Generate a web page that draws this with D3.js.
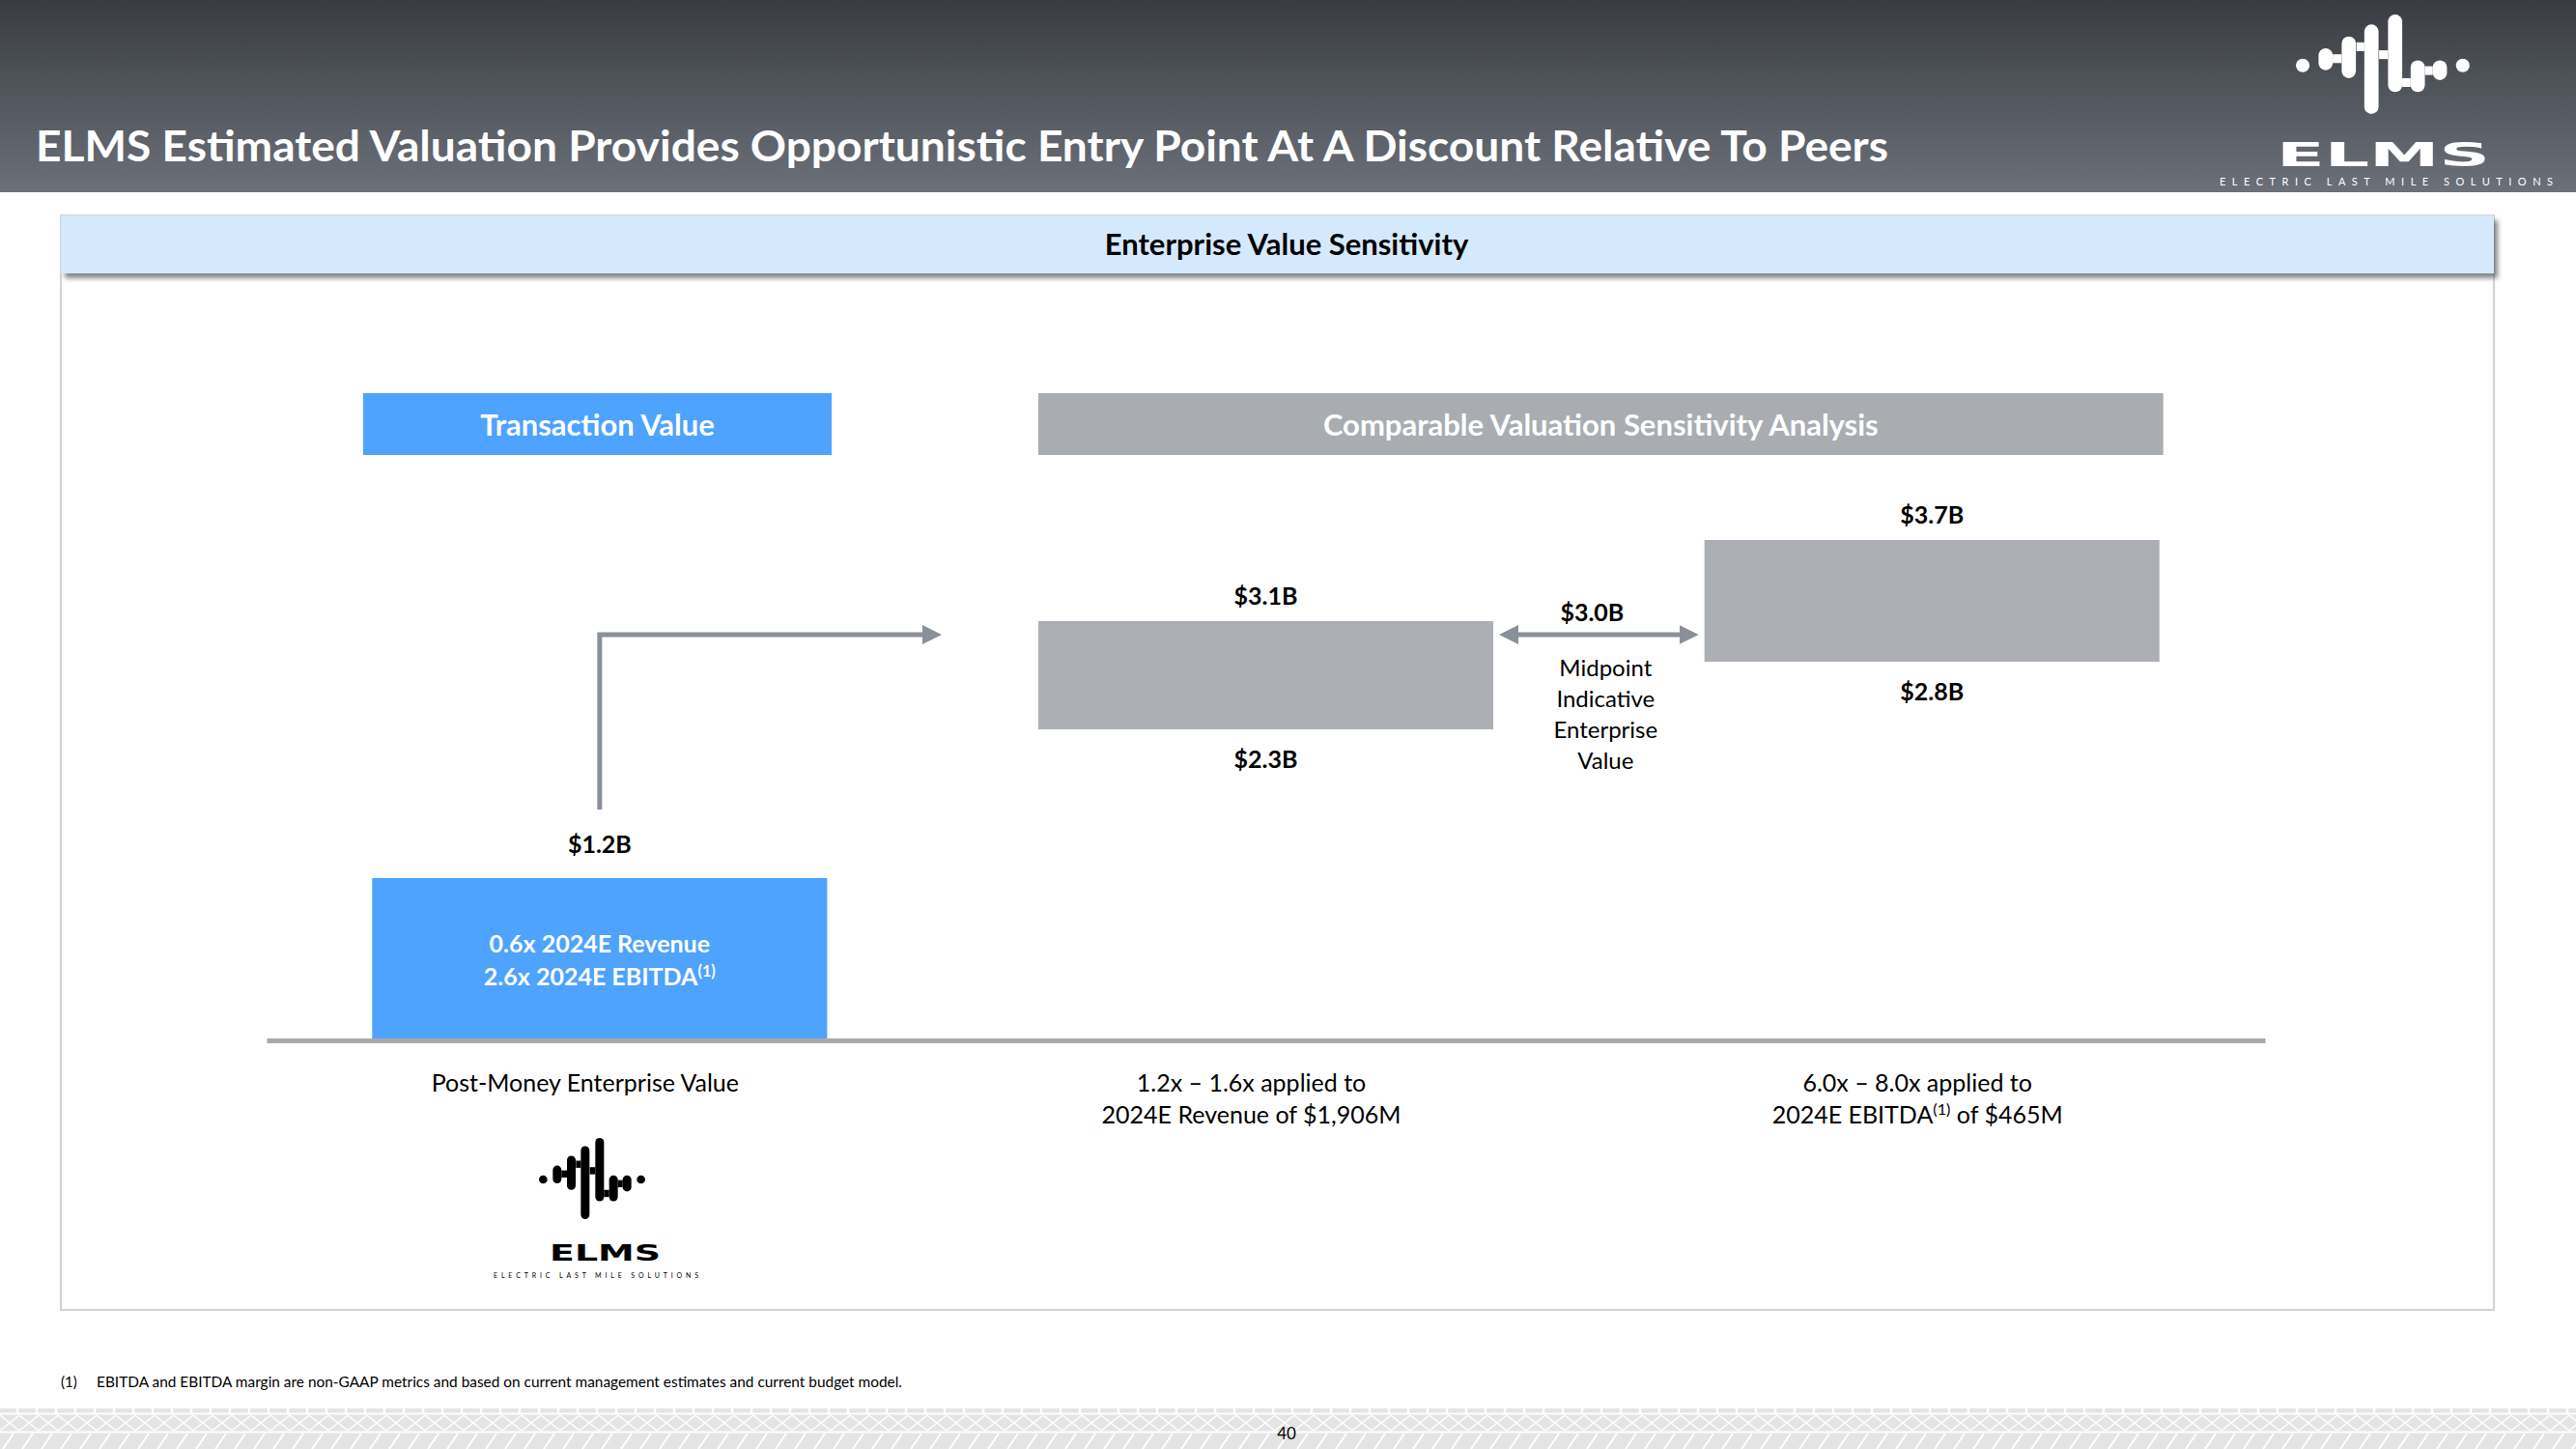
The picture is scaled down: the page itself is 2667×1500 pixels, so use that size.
<!DOCTYPE html>
<html lang="en">
<head>
  <meta charset="UTF-8">
  <title>ELMS Enterprise Value Sensitivity</title>
  <script src="https://d3js.org/d3.v7.min.js"></script>
  <style>
    body { margin: 0; background: #fff; }
    svg text { font-family: Lato, "Open Sans", sans-serif; }
  </style>
</head>
<body>
  <div id="chart"></div>

  <script>
    // values in $B
    const categories = ["Post-Money", "Revenue", "EBITDA"];
    const lowValues = [0, 2.3, 2.8];
    const highValues = [1.2, 3.1, 3.7];
    const topLabels = ["$1.2B", "$3.1B", "$3.7B"];
    const bottomLabels = [null, "$2.3B", "$2.8B"];
    const midpoint = 3.0;
    const midpointLabel = "$3.0B";
    const midpointText = ["Midpoint", "Indicative", "Enterprise", "Value"];
    const categoryLines = [
      ["Post-Money Enterprise Value"],
      ["1.2x – 1.6x applied to", "2024E Revenue of $1,906M"],
      ["6.0x – 8.0x applied to", "2024E EBITDA|(1)| of $465M"]
    ];
    const barText = ["0.6x 2024E Revenue", "2.6x 2024E EBITDA|(1)|"];

    const W = 2667, H = 1500;
    const blue = "#4da3fe", grey = "#abafb5", arrowGrey = "#8a9099";

    const svg = d3.select("#chart").append("svg")
      .attr("width", W).attr("height", H);

    const defs = svg.append("defs");

    const grad = defs.append("linearGradient").attr("id", "hdr")
      .attr("x1", 0).attr("y1", 0).attr("x2", 0).attr("y2", 1);
    grad.append("stop").attr("offset", "0%").attr("stop-color", "#393d42");
    grad.append("stop").attr("offset", "100%").attr("stop-color", "#6b7079");

    const shadow = defs.append("filter").attr("id", "shadow")
      .attr("x", "-2%").attr("y", "-20%").attr("width", "104%").attr("height", "160%");
    shadow.append("feDropShadow").attr("dx", 4).attr("dy", 5)
      .attr("stdDeviation", 2.5).attr("flood-color", "#555").attr("flood-opacity", 0.7);

    defs.append("marker").attr("id", "head")
      .attr("viewBox", "0 0 10 10").attr("refX", 5).attr("refY", 5)
      .attr("markerWidth", 4).attr("markerHeight", 4)
      .attr("orient", "auto-start-reverse")
      .append("path").attr("d", "M0,0 L10,5 L0,10 z").attr("fill", arrowGrey);

    // footer tread pattern
    const pat = defs.append("pattern").attr("id", "tread")
      .attr("patternUnits", "userSpaceOnUse").attr("x", 0).attr("y", 1458)
      .attr("width", 20).attr("height", 42);
    pat.append("rect").attr("width", 20).attr("height", 42).attr("fill", "#e4e4e4");
    const wl = (x1, y1, x2, y2, w) => pat.append("line")
      .attr("x1", x1).attr("y1", y1).attr("x2", x2).attr("y2", y2)
      .attr("stroke", "#fff").attr("stroke-width", w);
    wl(0, 5.5, 20, 5.5, 2);
    wl(18, 0, 18, 5, 2.5);
    wl(0, 24.5, 20, 24.5, 2);
    wl(0, 7, 20, 23, 1.6);
    wl(0, 23, 20, 7, 1.6);
    wl(3, 42, 14, 26, 2);

    // ---- header band
    svg.append("rect").attr("width", W).attr("height", 199).attr("fill", "url(#hdr)");
    svg.append("text")
      .attr("x", 37).attr("y", 167)
      .attr("fill", "#fff").attr("font-size", 44).attr("font-weight", 700)
      .attr("textLength", 1918).attr("lengthAdjust", "spacingAndGlyphs")
      .text("ELMS Estimated Valuation Provides Opportunistic Entry Point At A Discount Relative To Peers");

    // ELMS logo, waveform in local 330x250 units
    const wavePills = [
      { x: 43, y0: 85, y1: 140 }, { x: 87, y0: 55, y1: 160 },
      { x: 130, y0: 25, y1: 250 }, { x: 175, y0: 0, y1: 195 },
      { x: 218, y0: 115, y1: 195 }, { x: 260, y0: 115, y1: 165 }
    ];
    const waveDots = [{ x: 13, y: 128 }, { x: 317, y: 128 }];

    function drawLogo(x, y, sx, sy, color, word, tag) {
      const g = svg.append("g");
      const w = g.append("g").attr("transform", `translate(${x},${y}) scale(${sx},${sy})`);
      w.selectAll("rect").data(wavePills).enter().append("rect")
        .attr("x", d => d.x).attr("y", d => d.y0)
        .attr("width", 27).attr("height", d => d.y1 - d.y0)
        .attr("rx", 13.5).attr("ry", 13.5 * sx / sy).attr("fill", color);
      w.selectAll("ellipse").data(waveDots).enter().append("ellipse")
        .attr("cx", d => d.x).attr("cy", d => d.y)
        .attr("rx", 13).attr("ry", 13 * sx / sy).attr("fill", color);
      w.append("rect").attr("x", 70).attr("y", 100).attr("width", 17).attr("height", 22).attr("fill", color);
      w.append("rect").attr("x", 115).attr("y", 70).attr("width", 15).attr("height", 22).attr("fill", color);
      w.append("rect").attr("x", 158).attr("y", 90).attr("width", 17).attr("height", 22).attr("fill", color);
      w.append("rect").attr("x", 202).attr("y", 160).attr("width", 16).attr("height", 22).attr("fill", color);
      w.append("rect").attr("x", 245).attr("y", 130).attr("width", 15).attr("height", 22).attr("fill", color);
      g.append("text").attr("x", word.x).attr("y", word.y)
        .attr("fill", color).attr("font-size", word.size).attr("font-weight", 700)
        .style("font-family", "'DejaVu Sans', sans-serif")
        .attr("textLength", word.len).attr("lengthAdjust", "spacingAndGlyphs")
        .text("ELMS");
      g.append("text").attr("x", tag.x).attr("y", tag.y)
        .attr("fill", color).attr("font-size", tag.size)
        .attr("textLength", tag.len).attr("lengthAdjust", "spacing")
        .text("ELECTRIC LAST MILE SOLUTIONS");
    }

    drawLogo(2377, 15, 0.545, 0.412, "#fff",
      { x: 2357, y: 172, size: 33, len: 221 },
      { x: 2298, y: 192, size: 11, len: 345 });

    // ---- panel
    svg.append("rect").attr("x", 63).attr("y", 223).attr("width", 2519).attr("height", 1133)
      .attr("fill", "none").attr("stroke", "#d4d4d4").attr("stroke-width", 2);
    svg.append("rect").attr("x", 63).attr("y", 223).attr("width", 2519).attr("height", 60)
      .attr("fill", "#d5e9fc").attr("filter", "url(#shadow)");
    svg.append("text").attr("x", 1332).attr("y", 264).attr("text-anchor", "middle")
      .attr("font-size", 31).attr("font-weight", 700).attr("fill", "#000")
      .text("Enterprise Value Sensitivity");

    // ---- scales
    const x = d3.scaleBand().domain(categories)
      .range([276, 2345]).paddingInner(0.317).paddingOuter(0.1585);
    const y = d3.scaleLinear().domain([0, 4]).range([1077, 517]);
    const cx = c => x(c) + x.bandwidth() / 2;

    // section header boxes
    const heads = [
      { text: "Transaction Value", x0: 376, x1: 861, fill: blue },
      { text: "Comparable Valuation Sensitivity Analysis", x0: x(categories[1]), x1: x(categories[2]) + x.bandwidth() + 4, fill: "#a9adb2" }
    ];
    svg.selectAll(".head").data(heads).enter().append("rect")
      .attr("x", d => d.x0).attr("y", 407).attr("width", d => d.x1 - d.x0).attr("height", 64)
      .attr("fill", d => d.fill);
    svg.selectAll(".headText").data(heads).enter().append("text")
      .attr("x", d => (d.x0 + d.x1) / 2).attr("y", 451).attr("text-anchor", "middle")
      .attr("fill", "#fff").attr("font-size", 31).attr("font-weight", 700)
      .text(d => d.text);

    // bars
    svg.selectAll(".bar").data(categories).enter().append("rect")
      .attr("x", d => x(d))
      .attr("y", (d, i) => y(highValues[i]))
      .attr("width", x.bandwidth())
      .attr("height", (d, i) => y(lowValues[i]) - y(highValues[i]))
      .attr("fill", (d, i) => i === 0 ? blue : grey);

    // axis baseline
    const axis = svg.append("g").attr("transform", `translate(0,${y(0)})`)
      .call(d3.axisBottom(x).tickSize(0).tickSizeOuter(0).tickFormat(""));
    axis.select(".domain").attr("stroke", "#a7a9ac").attr("stroke-width", 5);

    // value labels
    svg.selectAll(".top").data(categories).enter().append("text")
      .attr("x", d => cx(d)).attr("y", (d, i) => y(highValues[i]) - (i === 0 ? 26 : 17))
      .attr("text-anchor", "middle").attr("font-size", 25).attr("font-weight", 700)
      .text((d, i) => topLabels[i]);
    svg.selectAll(".bottom").data(categories.filter((d, i) => bottomLabels[i])).enter().append("text")
      .attr("x", d => cx(d)).attr("y", d => y(lowValues[categories.indexOf(d)]) + 40)
      .attr("text-anchor", "middle").attr("font-size", 25).attr("font-weight", 700)
      .text(d => bottomLabels[categories.indexOf(d)]);

    function addLine(sel, str) {
      str.split("|").forEach((part, k) => {
        const t = sel.append("tspan").text(part);
        if (k === 1) t.attr("font-size", "65%").attr("baseline-shift", "super");
      });
    }

    // text in the blue bar
    barText.forEach((s, i) => {
      const t = svg.append("text").attr("x", cx(categories[0])).attr("y", 986 + i * 34)
        .attr("text-anchor", "middle").attr("fill", "#fff")
        .attr("font-size", 25).attr("font-weight", 700);
      addLine(t, s);
    });

    // category labels below axis
    categoryLines.forEach((lines, i) => {
      lines.forEach((s, j) => {
        const t = svg.append("text").attr("x", cx(categories[i]) - 15).attr("y", 1130 + j * 33)
          .attr("text-anchor", "middle").attr("font-size", 25).attr("fill", "#000");
        addLine(t, s);
      });
    });

    // arrow from transaction value to comparables
    const ax = cx(categories[0]);
    svg.append("path")
      .attr("d", `M${ax},${y(highValues[0]) - 71} V${y(midpoint)} H${x(categories[1]) - 110}`)
      .attr("fill", "none").attr("stroke", arrowGrey).attr("stroke-width", 5)
      .attr("marker-end", "url(#head)");

    // midpoint double arrow
    svg.append("line")
      .attr("x1", x(categories[1]) + x.bandwidth() + 16).attr("x2", x(categories[2]) - 16)
      .attr("y1", y(midpoint)).attr("y2", y(midpoint))
      .attr("stroke", arrowGrey).attr("stroke-width", 5)
      .attr("marker-start", "url(#head)").attr("marker-end", "url(#head)");
    const mx = (x(categories[1]) + x.bandwidth() + x(categories[2])) / 2;
    svg.append("text").attr("x", mx - 7).attr("y", y(midpoint) - 14)
      .attr("text-anchor", "middle").attr("font-size", 25).attr("font-weight", 700)
      .text(midpointLabel);
    svg.selectAll(".mid").data(midpointText).enter().append("text")
      .attr("x", mx + 7).attr("y", (d, i) => y(midpoint) + 43 + i * 32)
      .attr("text-anchor", "middle").attr("font-size", 24)
      .text(d => d);

    // bottom logo
    drawLogo(558, 1178, 0.3333, 0.336, "#000",
      { x: 569, y: 1305, size: 23, len: 115 },
      { x: 511, y: 1323, size: 7, len: 212 });

    // footnote
    svg.append("text").attr("x", 63).attr("y", 1436).attr("font-size", 15).text("(1)");
    svg.append("text").attr("x", 100).attr("y", 1436).attr("font-size", 15)
      .attr("textLength", 834).attr("lengthAdjust", "spacingAndGlyphs")
      .text("EBITDA and EBITDA margin are non-GAAP metrics and based on current management estimates and current budget model.");

    // footer
    svg.append("rect").attr("x", 0).attr("y", 1458).attr("width", W).attr("height", 42)
      .attr("fill", "url(#tread)");
    svg.append("text").attr("x", 1332).attr("y", 1490).attr("text-anchor", "middle")
      .attr("font-size", 17).text("40");
  </script>
</body>
</html>
